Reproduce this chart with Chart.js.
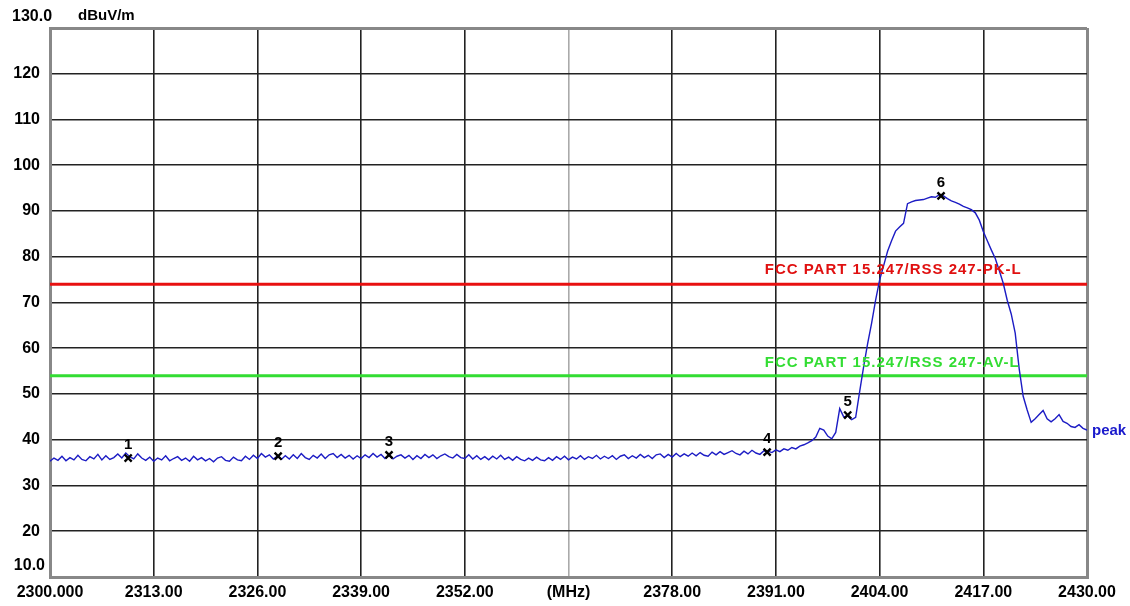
<!DOCTYPE html>
<html>
<head>
<meta charset="utf-8">
<script src="https://cdn.jsdelivr.net/npm/chart.js@4.4.1/dist/chart.umd.min.js"></script>
<style>
  body { margin: 0; background: #fff; }
  canvas { display: block; }
</style>
</head>
<body>
<canvas id="spectrum" width="1130" height="606"></canvas>
<script>
// sweep: 2300 - 2430 MHz, one reading every 0.5 MHz
const freqStart = 2300;
const freqStep = 0.5;
const levels = [
  35.3,36.0,35.5,36.4,35.4,36.1,35.6,36.6,35.7,35.4,36.3,35.8,36.8,35.6,36.5,35.7,36.1,36.9,36.0,37.1,
  36.3,35.8,36.9,36.0,35.5,36.2,35.3,36.0,35.6,36.5,35.4,35.9,36.3,35.5,36.0,35.3,36.4,35.6,36.1,35.4,
  35.9,35.2,36.0,36.3,35.5,35.3,36.2,35.6,35.4,36.4,35.7,36.6,35.9,37.0,36.2,36.7,35.8,36.4,35.7,36.5,
  35.8,36.7,35.9,37.0,36.1,35.7,36.6,36.0,36.9,35.9,36.7,37.0,36.1,36.8,36.0,36.6,35.8,36.5,35.9,36.7,
  36.1,37.0,36.2,36.8,35.9,36.6,35.8,36.4,36.7,36.0,36.6,35.7,36.5,35.9,36.8,36.1,36.7,35.9,36.5,36.9,
  36.3,36.0,36.8,36.1,35.9,36.7,35.8,36.5,35.7,36.3,35.6,36.4,35.8,36.6,35.7,36.2,35.5,36.3,35.7,35.4,
  36.0,35.5,36.2,35.6,35.4,36.1,35.5,36.3,35.7,36.4,35.6,36.2,35.8,36.5,35.7,36.3,35.9,36.6,35.8,36.4,
  35.9,36.5,35.7,36.4,36.7,35.9,36.5,36.0,36.8,36.1,36.6,35.9,36.7,36.9,36.1,36.8,36.2,37.0,36.3,36.9,
  36.4,37.1,36.5,37.2,36.6,36.4,37.3,36.7,37.4,36.8,37.2,37.6,37.0,36.7,37.5,36.9,37.7,37.1,36.8,37.6,
  37.5,37.2,37.8,37.4,38.0,37.7,38.3,38.0,38.6,38.9,39.3,39.8,40.6,42.5,42.1,40.8,40.2,41.6,46.8,45.0,
  45.2,44.4,44.9,50.5,56.0,61.0,65.5,70.5,74.9,78.0,81.2,83.5,85.6,86.5,87.3,91.6,92.0,92.3,92.4,92.5,
  92.8,93.1,93.0,93.6,93.3,92.7,92.2,91.9,91.5,91.0,90.7,90.3,89.6,88.0,85.5,83.5,81.5,79.6,77.0,74.2,
  70.5,67.5,63.3,55.5,49.5,46.5,43.8,44.6,45.5,46.4,44.6,43.9,44.6,45.5,44.0,43.6,42.9,42.7,43.3,42.5,
  42.1
];

// markers
const markerFreqs = [2309.8, 2328.6, 2342.5, 2389.9, 2400.0, 2411.7];
const markerLevels = [36.0, 36.4, 36.7, 37.3, 45.4, 93.3];
const markerNames = ['1', '2', '3', '4', '5', '6'];

// limit lines
const pkLimit = 74;
const avLimit = 54;
const pkLabel = 'FCC PART 15.247/RSS 247-PK-L';
const avLabel = 'FCC PART 15.247/RSS 247-AV-L';
const limitLabelFreq = 2389.6;

// axes
const xTicks = [2300, 2313, 2326, 2339, 2352, 2365, 2378, 2391, 2404, 2417, 2430];
const xTickLabels = ['2300.000', '2313.00', '2326.00', '2339.00', '2352.00', '(MHz)',
  '2378.00', '2391.00', '2404.00', '2417.00', '2430.00'];
const yMin = 10, yMax = 130, yStep = 10;

const tracePoints = levels.map((v, i) => ({ x: freqStart + i * freqStep, y: v }));
const markerPoints = markerFreqs.map((f, i) => ({ x: f, y: markerLevels[i] }));
const fStop = freqStart + (levels.length - 1) * freqStep;

const FONT = '"Liberation Sans", Arial, sans-serif';

// texts that sit on top of the plot
const labelPlugin = {
  id: 'labelPlugin',
  afterDatasetsDraw(chart) {
    const ctx = chart.ctx;
    const xs = chart.scales.x;
    const ys = chart.scales.y;
    ctx.save();
    ctx.textBaseline = 'middle';

    // limit line captions
    ctx.font = 'bold 15px ' + FONT;
    ctx.letterSpacing = '1px';
    ctx.textAlign = 'left';
    ctx.fillStyle = '#e01010';
    ctx.fillText(pkLabel, xs.getPixelForValue(limitLabelFreq), ys.getPixelForValue(pkLimit) - 14);
    ctx.fillStyle = '#33dd33';
    ctx.fillText(avLabel, xs.getPixelForValue(limitLabelFreq), ys.getPixelForValue(avLimit) - 13);
    ctx.letterSpacing = '0px';

    // marker numbers
    ctx.font = 'bold 15px ' + FONT;
    ctx.textAlign = 'center';
    ctx.fillStyle = '#000';
    markerFreqs.forEach((f, i) => {
      ctx.fillText(markerNames[i], xs.getPixelForValue(f), ys.getPixelForValue(markerLevels[i]) - 13);
    });

    // trace name
    ctx.font = 'bold 15px ' + FONT;
    ctx.textAlign = 'left';
    ctx.fillStyle = '#1a1acc';
    ctx.fillText('peak', xs.getPixelForValue(fStop) + 5, ys.getPixelForValue(levels[levels.length - 1]) + 1);

    // unit and end labels of the level axis
    ctx.fillStyle = '#000';
    ctx.font = 'bold 16px ' + FONT;
    ctx.fillText('130.0', 12, ys.getPixelForValue(yMax) - 11);
    ctx.font = 'bold 15px ' + FONT;
    ctx.fillText('dBuV/m', 78, ys.getPixelForValue(yMax) - 12);
    ctx.font = 'bold 16px ' + FONT;
    ctx.textAlign = 'right';
    ctx.fillText('10.0', 45, ys.getPixelForValue(yMin) - 11);
    ctx.restore();
  }
};

new Chart(document.getElementById('spectrum'), {
  type: 'line',
  data: {
    datasets: [
      {
        label: 'markers',
        data: markerPoints,
        showLine: false,
        pointStyle: 'crossRot',
        pointRadius: 5,
        pointBorderWidth: 2.4,
        pointBorderColor: '#000',
        order: 0
      },
      {
        label: 'peak',
        data: tracePoints,
        borderColor: '#1c1cc4',
        borderWidth: 1.4,
        pointRadius: 0,
        tension: 0,
        order: 1
      },
      {
        label: 'PK limit',
        data: [{ x: freqStart, y: pkLimit }, { x: fStop, y: pkLimit }],
        borderColor: '#e81010',
        borderWidth: 3,
        pointRadius: 0,
        order: 2
      },
      {
        label: 'AV limit',
        data: [{ x: freqStart, y: avLimit }, { x: fStop, y: avLimit }],
        borderColor: '#33dd33',
        borderWidth: 3,
        pointRadius: 0,
        order: 2
      }
    ]
  },
  options: {
    responsive: false,
    animation: false,
    layout: { padding: { top: 28, right: 43, left: 0, bottom: 0 } },
    plugins: {
      legend: { display: false },
      tooltip: { enabled: false }
    },
    scales: {
      x: {
        type: 'linear',
        min: freqStart,
        max: fStop,
        afterFit(scale) { scale.height = 29; },
        afterBuildTicks(scale) { scale.ticks = xTicks.map(v => ({ value: v })); },
        ticks: {
          autoSkip: false,
          maxRotation: 0,
          padding: 6,
          color: '#000',
          font: { family: FONT, size: 16, weight: 'bold' },
          callback: (v, i) => xTickLabels[i]
        },
        grid: {
          drawTicks: false,
          color: ctx => {
            const v = ctx.tick && ctx.tick.value;
            if (v === freqStart || v === fStop) return '#888';
            if (v === 2365) return '#aaa';
            return '#222';
          },
          lineWidth: ctx => {
            const v = ctx.tick && ctx.tick.value;
            return (v === freqStart || v === fStop) ? 3 : 1.6;
          }
        },
        border: { color: '#888', width: 3 }
      },
      y: {
        min: yMin,
        max: yMax,
        afterFit(scale) { scale.width = 50; },
        ticks: {
          stepSize: yStep,
          padding: 10,
          color: '#000',
          font: { family: FONT, size: 16, weight: 'bold' },
          callback: v => (v === yMin || v === yMax) ? '' : v
        },
        grid: {
          drawTicks: false,
          color: ctx => {
            const v = ctx.tick && ctx.tick.value;
            return (v === yMin || v === yMax) ? '#888' : '#222';
          },
          lineWidth: ctx => {
            const v = ctx.tick && ctx.tick.value;
            return (v === yMin || v === yMax) ? 3 : 1.6;
          }
        },
        border: { color: '#888', width: 3 }
      }
    }
  },
  plugins: [labelPlugin]
});
</script>
</body>
</html>
